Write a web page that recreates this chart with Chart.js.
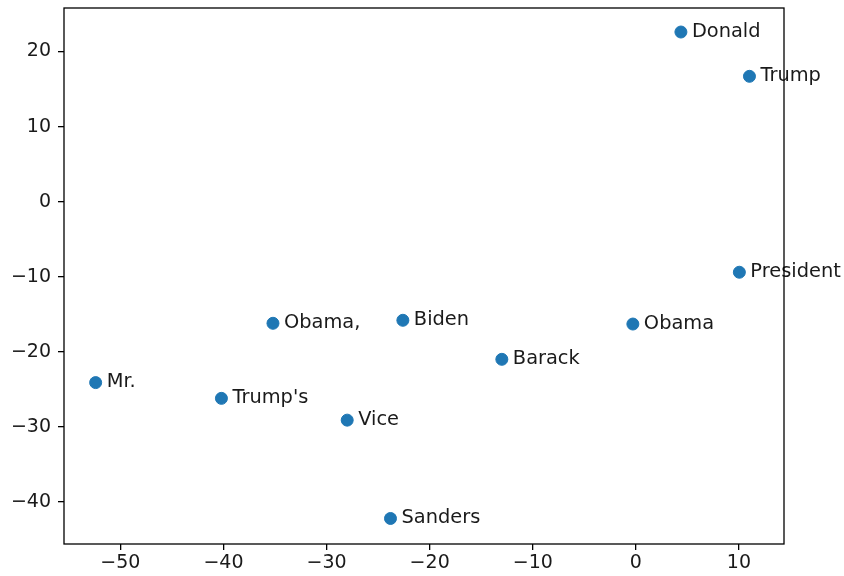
<!DOCTYPE html>
<html>
<head>
<meta charset="utf-8">
<script src="https://cdn.jsdelivr.net/npm/chart.js@4"></script>
<style>
html,body{margin:0;padding:0;background:#fff;}
#wrap{width:844px;height:576px;}
</style>
</head>
<body>
<div id="wrap"><canvas id="c" width="844" height="576"></canvas></div>
<script>
const words = ["Donald","Trump","President","Obama","Obama,","Biden","Barack","Mr.","Trump's","Vice","Sanders"];
const xValues = [4.37, 11.02, 10.04, -0.29, -35.2, -22.6, -13.0, -52.4, -40.2, -28.0, -23.8];
const yValues = [22.6, 16.7, -9.4, -16.3, -16.2, -15.8, -21.0, -24.1, -26.2, -29.1, -42.2];
const xTicks = [-50, -40, -30, -20, -10, 0, 10];
const yTicks = [-40, -30, -20, -10, 0, 10, 20];

const FONT = 'DejaVu Sans';
const fmt = v => String(v).replace('-', '\u2212');

const points = xValues.map((x, i) => ({x: x, y: yValues[i]}));

const frame = {
  id: 'frame',
  afterDraw(chart) {
    const {ctx, chartArea: a} = chart;
    ctx.save();
    ctx.strokeStyle = '#000';
    ctx.lineWidth = 1.3;
    ctx.strokeRect(a.left, a.top, a.right - a.left, a.bottom - a.top);
    ctx.restore();
  }
};

const labelsPlugin = {
  id: 'wordLabels',
  afterDatasetsDraw(chart) {
    const {ctx} = chart;
    const meta = chart.getDatasetMeta(0);
    ctx.save();
    ctx.font = '19.4px "' + FONT + '"';
    ctx.fillStyle = '#1a1a1a';
    ctx.textAlign = 'left';
    ctx.textBaseline = 'alphabetic';
    meta.data.forEach((el, i) => {
      ctx.fillText(words[i], el.x + 11, el.y + 4.5);
    });
    ctx.restore();
  }
};

new Chart(document.getElementById('c'), {
  type: 'scatter',
  data: {
    datasets: [{
      data: points,
      backgroundColor: '#1f77b4',
      borderColor: '#1f77b4',
      borderWidth: 1,
      pointRadius: 6,
      pointHoverRadius: 6
    }]
  },
  options: {
    responsive: false,
    animation: false,
    events: [],
    layout: {padding: {left: 0, top: 8, right: 60, bottom: 0}},
    plugins: {legend: {display: false}, tooltip: {enabled: false}},
    scales: {
      x: {
        type: 'linear',
        min: -55.47, max: 14.37,
        afterBuildTicks: s => { s.ticks = xTicks.map(v => ({value: v})); },
        afterFit: s => { s.height = 32; s.paddingLeft = 0; s.paddingRight = 0; },
        border: {display: false},
        grid: {display: true, drawOnChartArea: false, drawTicks: true, tickLength: 6, color: '#000', lineWidth: 1.3},
        ticks: {color: '#1a1a1a', font: {family: FONT, size: 19}, padding: 2, maxRotation: 0, autoSkip: false, callback: v => fmt(v)}
      },
      y: {
        type: 'linear',
        min: -45.6, max: 25.8,
        afterBuildTicks: s => { s.ticks = yTicks.map(v => ({value: v})); },
        afterFit: s => { s.width = 64; s.paddingTop = 0; s.paddingBottom = 0; },
        border: {display: false},
        grid: {display: true, drawOnChartArea: false, drawTicks: true, tickLength: 6, color: '#000', lineWidth: 1.3},
        ticks: {color: '#1a1a1a', font: {family: FONT, size: 19}, padding: 7, autoSkip: false, callback: v => fmt(v)}
      }
    }
  },
  plugins: [frame, labelsPlugin]
});
</script>
</body>
</html>
